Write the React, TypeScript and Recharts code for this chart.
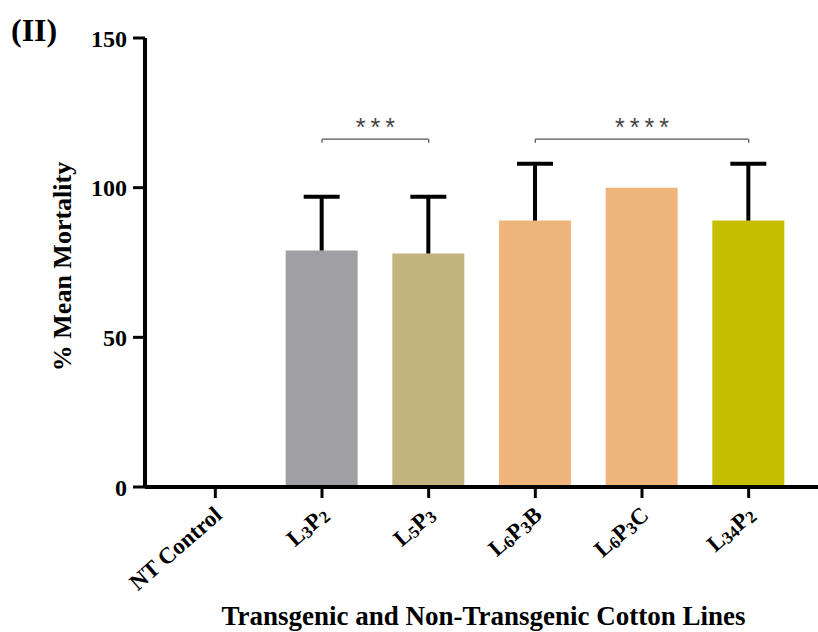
import React from 'react';
import { BarChart, Bar, XAxis, YAxis, Cell, ReferenceLine, Label } from 'recharts';

// ---- data ----
const categories = ['NT Control', 'L3P2', 'L5P3', 'L6P3B', 'L6P3C', 'L34P2'];
const meanMortality = [0, 79, 78, 89, 100, 89];
const errorUpper: (number | null)[] = [null, 18, 19, 19, null, 19];
const barColors = ['#a09fa4', '#a09fa4', '#c1b47e', '#f0b47d', '#f0b47d', '#c7be00'];
const yTicks = [0, 50, 100, 150];
// tick label pieces: [text, isSubscript]
const tickLabelParts: Record<string, [string, boolean][]> = {
  'NT Control': [['NT Control', false]],
  L3P2: [['L', false], ['3', true], ['P', false], ['2', true]],
  L5P3: [['L', false], ['5', true], ['P', false], ['3', true]],
  L6P3B: [['L', false], ['6', true], ['P', false], ['3', true], ['B', false]],
  L6P3C: [['L', false], ['6', true], ['P', false], ['3', true], ['C', false]],
  L34P2: [['L', false], ['34', true], ['P', false], ['2', true]],
};
const brackets = [
  { from: 'L3P2', to: 'L5P3', y: 116.2, drop: 115, label: '***' },
  { from: 'L6P3B', to: 'L34P2', y: 116.2, drop: 115, label: '****' },
];
const yLabel = '% Mean Mortality';
const xLabel = 'Transgenic and Non-Transgenic Cotton Lines';
const panelTag = '(II)';

const data = categories.map((c, i) => ({
  name: c,
  mean: meanMortality[i],
  errRange: errorUpper[i] == null ? null : [meanMortality[i], meanMortality[i] + (errorUpper[i] as number)],
}));

const SERIF = '"Liberation Serif", "Times New Roman", serif';
const SANS = '"Liberation Sans", Arial, sans-serif';

const XTick = (props: any) => {
  const { x, y, payload } = props;
  const parts = tickLabelParts[payload.value] || [[String(payload.value), false]];
  let prevSub = false;
  return (
    <g transform={`translate(${x + 8},${y + 17}) rotate(-41)`}>
      <text x={0} y={0} textAnchor="end" fontFamily={SERIF} fontWeight="bold" fontSize={23} fill="#000">
        {parts.map(([t, sub], i) => {
          let dy = 0;
          if (sub && !prevSub) dy = 2;
          if (!sub && prevSub) dy = -2;
          prevSub = sub;
          return (
            <tspan key={i} fontSize={sub ? 17 : 23} dy={dy}>
              {t}
            </tspan>
          );
        })}
      </text>
    </g>
  );
};

const ErrorT = (props: any) => {
  const { x, y, width, height } = props;
  if (x == null || y == null || !height) return null;
  const cx = x + width / 2;
  return (
    <g>
      <line x1={cx} x2={cx} y1={y + height} y2={y} stroke="#000" strokeWidth={4} />
      <line x1={cx - 18} x2={cx + 18} y1={y} y2={y} stroke="#000" strokeWidth={4} />
    </g>
  );
};

const StarLabel = (text: string) => (p: any) => {
  const vb = p.viewBox || {};
  const cx = (vb.x ?? 0) + (vb.width ?? 0) / 2;
  return (
    <text x={cx} y={(vb.y ?? 0) - 3} textAnchor="middle" fontFamily={SANS} fontSize={25} fill="#444" letterSpacing={5} dx={2.5}>
      {text}
    </text>
  );
};

export default function App() {
  const pad = { left: 17, right: 16 };
  return (
    <div style={{ position: 'absolute', left: 0, top: 0, width: 818, height: 632, background: '#fff' }}>
      <svg style={{ position: 'absolute', left: 0, top: 0 }} width={120} height={60}>
        <text x={11} y={41} fontFamily={SERIF} fontWeight="bold" fontSize={32} fill="#000">
          {panelTag}
        </text>
      </svg>
      <BarChart width={818} height={632} data={data} margin={{ top: 38, right: 0, bottom: 0, left: 0 }}>
        <XAxis
          dataKey="name"
          height={145}
          padding={pad}
          interval={0}
          axisLine={{ stroke: '#000', strokeWidth: 4 }}
          tickLine={{ stroke: '#000', strokeWidth: 3 }}
          tickSize={11}
          tick={<XTick />}
        >
          <Label
            content={(p: any) => {
              const vb = p.viewBox;
              return (
                <text x={vb.x + vb.width / 2 + 2} y={vb.y + 138} textAnchor="middle" fontFamily={SERIF} fontWeight="bold" fontSize={27} fill="#000">
                  {xLabel}
                </text>
              );
            }}
          />
        </XAxis>
        <XAxis xAxisId="err" dataKey="name" hide padding={pad} />
        <YAxis
          width={145}
          domain={[0, 150]}
          ticks={yTicks}
          interval={0}
          axisLine={{ stroke: '#000', strokeWidth: 4 }}
          tickLine={{ stroke: '#000', strokeWidth: 3 }}
          tickSize={12}
          tickMargin={6}
          tick={{ fill: '#000', fontFamily: SERIF, fontWeight: 'bold', fontSize: 24 }}
        >
          <Label
            content={(p: any) => {
              const vb = p.viewBox;
              return (
                <text
                  transform={`translate(${vb.x + 62},${vb.y + vb.height / 2 + 4}) rotate(-90)`}
                  textAnchor="middle"
                  dominantBaseline="central"
                  fontFamily={SERIF}
                  fontWeight="bold"
                  fontSize={26}
                  fill="#000"
                >
                  {yLabel}
                </text>
              );
            }}
          />
        </YAxis>
        <Bar dataKey="mean" barSize={72} isAnimationActive={false}>
          {data.map((d, i) => (
            <Cell key={d.name} fill={barColors[i]} />
          ))}
        </Bar>
        <Bar dataKey="errRange" xAxisId="err" barSize={72} fill="none" shape={<ErrorT />} isAnimationActive={false} />
        {brackets.map((b) => (
          <ReferenceLine
            key={b.label}
            segment={[
              { x: b.from, y: b.y },
              { x: b.to, y: b.y },
            ]}
            stroke="#555"
            strokeWidth={1.3}
            label={StarLabel(b.label)}
          />
        ))}
        {brackets.map((b) => (
          <ReferenceLine
            key={b.label + 'l'}
            segment={[
              { x: b.from, y: b.y },
              { x: b.from, y: b.drop },
            ]}
            stroke="#555"
            strokeWidth={1.3}
          />
        ))}
        {brackets.map((b) => (
          <ReferenceLine
            key={b.label + 'r'}
            segment={[
              { x: b.to, y: b.y },
              { x: b.to, y: b.drop },
            ]}
            stroke="#555"
            strokeWidth={1.3}
          />
        ))}
      </BarChart>
    </div>
  );
}
